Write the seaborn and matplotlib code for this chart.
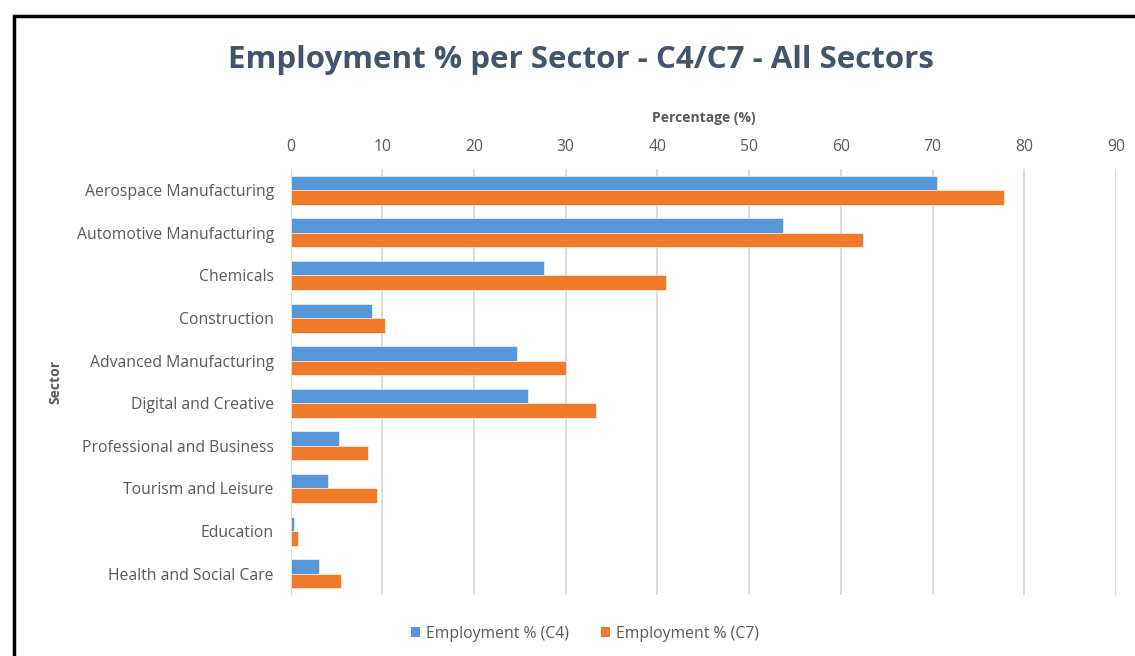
import matplotlib
matplotlib.use("Agg")
import matplotlib.pyplot as plt
from matplotlib.patches import Rectangle, Patch
import seaborn as sns
import pandas as pd

sectors = [
    "Aerospace Manufacturing",
    "Automotive Manufacturing",
    "Chemicals",
    "Construction",
    "Advanced Manufacturing",
    "Digital and Creative",
    "Professional and Business",
    "Tourism and Leisure",
    "Education",
    "Health and Social Care",
]
emp_c4 = [70.5, 53.7, 27.6, 8.9, 24.7, 25.9, 5.3, 4.1, 0.4, 3.1]
emp_c7 = [77.8, 62.4, 40.9, 10.3, 30.0, 33.3, 8.4, 9.4, 0.85, 5.5]
series_names = ["Employment % (C4)", "Employment % (C7)"]
x_ticks = [0, 10, 20, 30, 40, 50, 60, 70, 80, 90]

df = pd.DataFrame({
    "Sector": sectors * 2,
    "Value": emp_c4 + emp_c7,
    "Series": [series_names[0]] * len(sectors) + [series_names[1]] * len(sectors),
})

sns.set_theme(style="white")
plt.rcParams["font.family"] = ["Open Sans", "DejaVu Sans"]

text_grey = "#595959"
title_col = "#44546A"
colors = {series_names[0]: "#5597D9", series_names[1]: "#EF7A2A"}

fig = plt.figure(figsize=(11.35, 6.56), dpi=100)
fig.patch.set_facecolor("white")

# black frame along the left and top edges
fig.add_artist(Rectangle((13.5 / 1135, -0.1), 1.2, 1.1 - 15.5 / 656,
                         transform=fig.transFigure, fill=False,
                         edgecolor="black", linewidth=2.5))

ax = fig.add_axes([290.5 / 1135, (656 - 595) / 656, (1116 - 290.5) / 1135, (595 - 169) / 656])

sns.barplot(data=df, y="Sector", x="Value", hue="Series", orient="h",
            palette=colors, saturation=1, width=0.68, ax=ax, legend=False,
            edgecolor="#FFFFFF", linewidth=0.4)

ax.set_xlim(0, 90)
ax.set_xticks(x_ticks)
ax.xaxis.tick_top()
ax.xaxis.set_label_position("top")
ax.grid(axis="x", color="#D9D9D9", linewidth=1.3)
ax.set_axisbelow(True)
for s in ax.spines.values():
    s.set_visible(False)
ax.tick_params(axis="both", length=0, labelsize=11.3, colors=text_grey)
ax.tick_params(axis="x", pad=10)
ax.tick_params(axis="y", pad=12)

ax.set_xlabel("Percentage (%)", fontsize=10, fontweight="bold", color=text_grey, labelpad=12)
ax.set_ylabel("Sector", fontsize=10, fontweight="bold", color=text_grey, labelpad=10)

fig.text(581 / 1135, 1 - 60 / 656, "Employment % per Sector - C4/C7 - All Sectors",
         ha="center", va="center", fontsize=22.5, fontweight="bold", color=title_col)

handles = [Patch(facecolor=colors[n], edgecolor="none", label=n) for n in series_names]
fig.legend(handles=handles, loc="center", bbox_to_anchor=(585 / 1135, 1 - 634 / 656),
           ncol=2, frameon=False, fontsize=11.3, handlelength=0.6, handleheight=0.6,
           handletextpad=0.4, columnspacing=2.0, labelcolor=text_grey)

fig.savefig("out.png", dpi=100, facecolor="white")
